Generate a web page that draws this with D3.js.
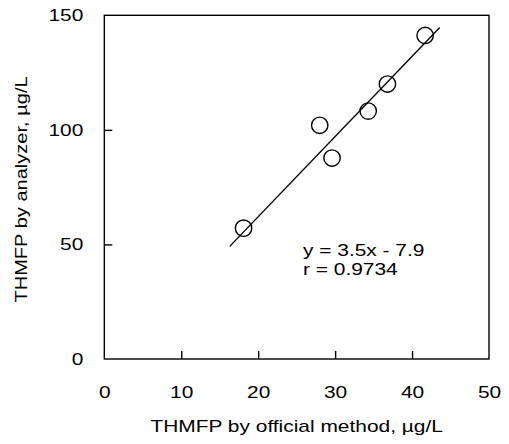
<!DOCTYPE html>
<html>
<head>
<meta charset="utf-8">
<script src="https://cdn.jsdelivr.net/npm/d3@7"></script>
<style>
  body { margin: 0; background: #fff; }
  text { font-family: "Liberation Sans", Arial, sans-serif; fill: #000; }
</style>
</head>
<body>
<svg id="chart" width="509" height="444"></svg>
<script>
// measured pairs
const officialVals = [18.1, 28.0, 29.6, 34.3, 36.8, 41.7];
const analyzerVals = [57.1, 102.0, 87.7, 108.2, 120.0, 141.2];
const xTicks = [0, 10, 20, 30, 40, 50];
const yTicks = [0, 50, 100, 150];
const fitSlope = 3.5;
const fitIntercept = -7.9;
const fitRange = [16.3, 43.6];
const fitLabels = ["y = 3.5x - 7.9", "r = 0.9734"];

const svg = d3.select("#chart");
const FS = 17, SX = 1.23;   // font is rendered wide in the original
const wide = `scale(${SX},1)`;

const x = d3.scaleLinear().domain([0, 50]).range([104.3, 489]);
const y = d3.scaleLinear().domain([0, 150]).range([359, 15.3]);

// frame
svg.append("rect")
    .attr("x", x(0)).attr("y", y(150))
    .attr("width", x(50) - x(0)).attr("height", y(0) - y(150))
    .attr("fill", "none").attr("stroke", "#000").attr("stroke-width", 1.4);

// x axis, inward ticks
const xAxis = svg.append("g")
    .attr("transform", `translate(0,${y(0)})`)
    .call(d3.axisBottom(x).tickValues(xTicks).tickSizeInner(-8).tickSizeOuter(0));
xAxis.select(".domain").remove();
xAxis.selectAll("line").attr("stroke", "#000").attr("stroke-width", 1.4)
    .filter(d => d === 0 || d === 50).remove();
xAxis.selectAll("text")
    .attr("font-size", FS).attr("font-family", "Liberation Sans, Arial, sans-serif")
    .attr("y", 0).attr("dy", null)
    .attr("transform", `translate(0,39) ${wide}`);

// y axis, inward ticks
const yAxis = svg.append("g")
    .attr("transform", `translate(${x(0)},0)`)
    .call(d3.axisLeft(y).tickValues(yTicks).tickSizeInner(-8).tickSizeOuter(0));
yAxis.select(".domain").remove();
yAxis.selectAll("line").attr("stroke", "#000").attr("stroke-width", 1.4)
    .filter(d => d === 0 || d === 150).remove();
yAxis.selectAll("text")
    .attr("font-size", FS).attr("font-family", "Liberation Sans, Arial, sans-serif")
    .attr("x", 0)
    .attr("transform", `translate(-21,0) ${wide}`);

// regression line
svg.append("line")
    .attr("x1", x(fitRange[0])).attr("y1", y(fitSlope * fitRange[0] + fitIntercept))
    .attr("x2", x(fitRange[1])).attr("y2", y(fitSlope * fitRange[1] + fitIntercept))
    .attr("stroke", "#000").attr("stroke-width", 1.4);

// points
svg.append("g").selectAll("circle")
    .data(officialVals.map((v, i) => ({x: v, y: analyzerVals[i]})))
    .enter().append("circle")
    .attr("cx", d => x(d.x)).attr("cy", d => y(d.y))
    .attr("r", 8.2)
    .attr("fill", "none").attr("stroke", "#000").attr("stroke-width", 1.4);

// equation
svg.append("g").selectAll("text")
    .data(fitLabels)
    .enter().append("text")
    .attr("transform", (d, i) => `translate(303,${256 + i * 19}) ${wide}`)
    .attr("font-size", FS)
    .text(d => d);

// axis titles
svg.append("text")
    .attr("transform", `translate(${(x(0) + x(50)) / 2},432) ${wide}`)
    .attr("text-anchor", "middle").attr("font-size", FS)
    .text("THMFP by official method, µg/L");

svg.append("text")
    .attr("transform", `translate(27,189.5) rotate(-90) scale(1.18,1)`)
    .attr("text-anchor", "middle").attr("font-size", FS)
    .text("THMFP by analyzer, µg/L");
</script>
</body>
</html>
